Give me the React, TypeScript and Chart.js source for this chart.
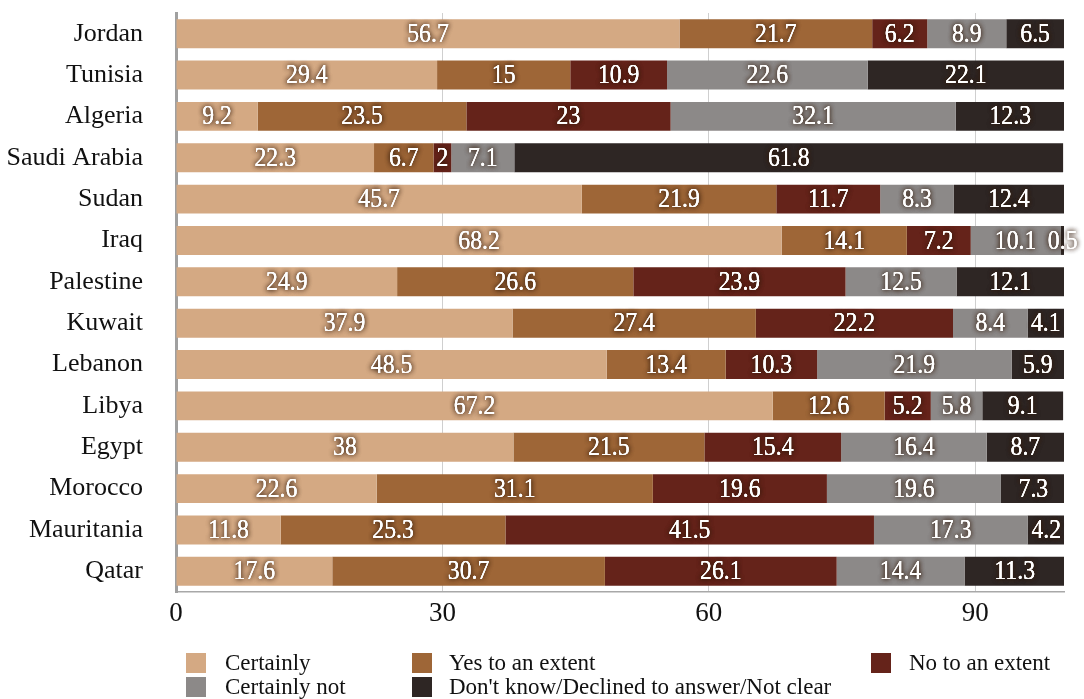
import React, { useEffect, useRef } from "react";
import { Chart, registerables } from "chart.js";

Chart.register(...registerables);

const countries = ["Jordan", "Tunisia", "Algeria", "Saudi Arabia", "Sudan", "Iraq", "Palestine", "Kuwait", "Lebanon", "Libya", "Egypt", "Morocco", "Mauritania", "Qatar"];
const certainly = [56.7, 29.4, 9.2, 22.3, 45.7, 68.2, 24.9, 37.9, 48.5, 67.2, 38, 22.6, 11.8, 17.6];
const yesToExtent = [21.7, 15, 23.5, 6.7, 21.9, 14.1, 26.6, 27.4, 13.4, 12.6, 21.5, 31.1, 25.3, 30.7];
const noToExtent = [6.2, 10.9, 23, 2, 11.7, 7.2, 23.9, 22.2, 10.3, 5.2, 15.4, 19.6, 41.5, 26.1];
const certainlyNot = [8.9, 22.6, 32.1, 7.1, 8.3, 10.1, 12.5, 8.4, 21.9, 5.8, 16.4, 19.6, 17.3, 14.4];
const dontKnow = [6.5, 22.1, 12.3, 61.8, 12.4, 0.5, 12.1, 4.1, 5.9, 9.1, 8.7, 7.3, 4.2, 11.3];
const seriesNames = ["Certainly", "Yes to an extent", "No to an extent", "Certainly not", "Don't know/Declined to answer/Not clear"];
const seriesColors = ["#D4A983", "#9E6637", "#65231A", "#8C8988", "#2E2624"];
const xTicks = [0, 30, 60, 90];

const FONT = "'Liberation Serif', 'Times New Roman', serif";

const dataLabelPlugin = {
  id: "dataLabels",
  afterDatasetsDraw(chart: any) {
    const ctx = chart.ctx;
    chart.data.datasets.forEach((ds: any, di: number) => {
      const meta = chart.getDatasetMeta(di);
      meta.data.forEach((el: any, i: number) => {
        const v = ds.data[i];
        if (v == null) return;
        const cx = (el.x + el.base) / 2;
        const cy = el.y + 1;
        const txt = String(v);
        ctx.save();
        ctx.translate(cx, cy);
        ctx.scale(0.88, 1);
        ctx.font = `27px ${FONT}`;
        ctx.textAlign = "center";
        ctx.textBaseline = "middle";
        ctx.shadowColor = "rgba(50,25,10,0.9)";
        ctx.shadowBlur = 5;
        ctx.shadowOffsetX = 0;
        ctx.shadowOffsetY = 0;
        ctx.fillStyle = "#ffffff";
        ctx.fillText(txt, 0, 0);
        ctx.fillText(txt, 0, 0);
        ctx.shadowBlur = 0;
        ctx.fillText(txt, 0, 0);
        ctx.restore();
      });
    });
  },
};

const legendPlugin = {
  id: "customLegend",
  afterDraw(chart: any) {
    const ctx = chart.ctx;
    const items = [
      { i: 0, bx: 186, tx: 225, y: 663 },
      { i: 1, bx: 412, tx: 449, y: 663 },
      { i: 2, bx: 871, tx: 909, y: 663 },
      { i: 3, bx: 186, tx: 225, y: 687 },
      { i: 4, bx: 412, tx: 449, y: 687 },
    ];
    ctx.save();
    ctx.font = `23px ${FONT}`;
    ctx.textAlign = "left";
    ctx.textBaseline = "middle";
    items.forEach((it) => {
      ctx.fillStyle = seriesColors[it.i];
      ctx.fillRect(it.bx, it.y - 10, 20, 20);
      ctx.fillStyle = "#111111";
      ctx.fillText(seriesNames[it.i], it.tx, it.y + 1);
    });
    ctx.restore();
  },
};

export default function App() {
  const canvasRef = useRef<HTMLCanvasElement | null>(null);

  useEffect(() => {
    if (!canvasRef.current) return;
    const values = [certainly, yesToExtent, noToExtent, certainlyNot, dontKnow];
    const chart = new Chart(canvasRef.current, {
      type: "bar",
      data: {
        labels: countries,
        datasets: values.map((d, i) => ({
          label: seriesNames[i],
          data: d,
          backgroundColor: seriesColors[i],
          borderWidth: 0,
          categoryPercentage: 1,
          barPercentage: 0.7,
        })),
      },
      plugins: [dataLabelPlugin, legendPlugin],
      options: {
        indexAxis: "y",
        animation: false,
        responsive: false,
        maintainAspectRatio: false,
        layout: { padding: { left: 0, right: 20, top: 13, bottom: 0 } },
        plugins: {
          legend: { display: false },
          tooltip: { enabled: false },
        },
        scales: {
          x: {
            stacked: true,
            min: 0,
            max: 100,
            afterBuildTicks: (scale: any) => {
              scale.ticks = xTicks.map((v) => ({ value: v }));
            },
            afterFit: (scale: any) => {
              scale.height = 107;
              scale.paddingLeft = 0;
              scale.paddingRight = 0;
            },
            grid: { color: "#cfcfcf", lineWidth: 1, drawTicks: false },
            border: { display: true, color: "#a8a8a8", width: 1.5 },
            ticks: {
              color: "#111111",
              font: { family: FONT, size: 27 },
              padding: 6,
              maxRotation: 0,
              autoSkip: false,
            },
          },
          y: {
            stacked: true,
            afterFit: (scale: any) => {
              scale.width = 176;
              scale.paddingTop = 0;
              scale.paddingBottom = 0;
            },
            grid: { display: false, drawTicks: false },
            border: { display: true, color: "#a0a0a0", width: 3 },
            ticks: {
              color: "#111111",
              font: { family: FONT, size: 26 },
              padding: 33,
              autoSkip: false,
            },
          },
        },
      },
    } as any);
    return () => chart.destroy();
  }, []);

  return (
    <div style={{ position: "fixed", left: 0, top: 0, width: 1084, height: 699, background: "#ffffff" }}>
      <canvas ref={canvasRef} width={1084} height={699} style={{ width: 1084, height: 699, display: "block" }} />
    </div>
  );
}
